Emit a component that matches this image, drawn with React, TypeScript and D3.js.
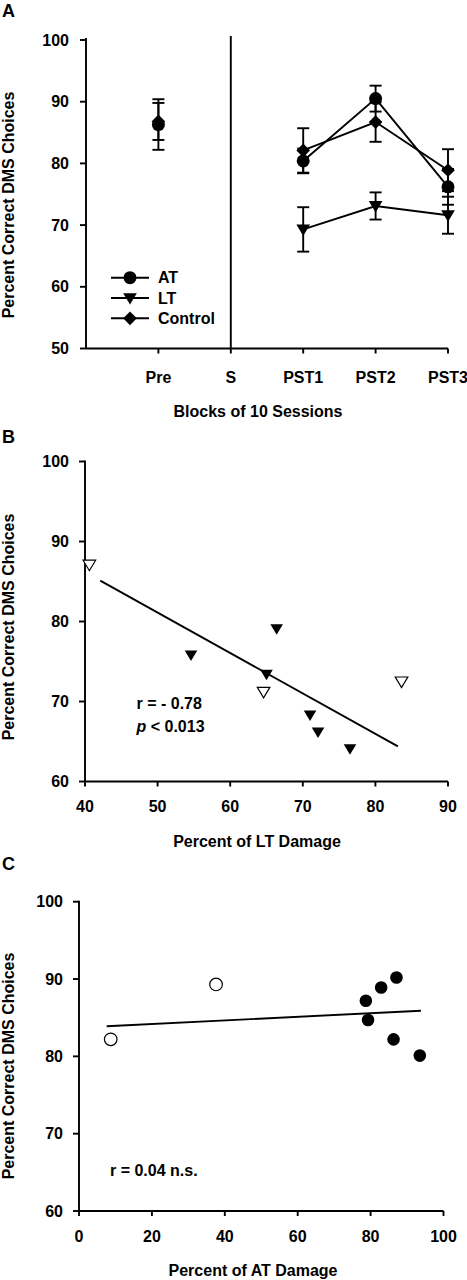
import React from "react";
import * as d3 from "d3";

// ---------- Panel A data ----------
const blocks = ["Pre", "S", "PST1", "PST2", "PST3"];
const atMean = [86.3, NaN, 80.4, 90.5, 76.2];
const atErr = [4.1, NaN, 2.0, 2.1, 2.9];
const ltMean = [NaN, NaN, 69.3, 73.1, 71.6];
const ltErr = [NaN, NaN, 3.6, 2.2, 3.0];
const ctlMean = [86.8, NaN, 82.1, 86.7, 78.9];
const ctlErr = [3.0, NaN, 3.6, 3.2, 3.4];
const yTicksA = [50, 60, 70, 80, 90, 100];
const legendNames = ["AT", "LT", "Control"];

// ---------- Panel B data ----------
const ltDamageFilled = [54.6, 65.0, 66.4, 71.0, 72.1, 76.5];
const ltScoreFilled = [75.8, 73.4, 79.1, 68.3, 66.2, 64.1];
const ltDamageOpen = [40.6, 64.6, 83.6];
const ltScoreOpen = [87.1, 71.2, 72.5];
const ltFitX = [42.1, 83.1];
const ltFitY = [85.1, 64.4];
const xTicksB = [40, 50, 60, 70, 80, 90];
const yTicksB = [60, 70, 80, 90, 100];

// ---------- Panel C data ----------
const atDamageFilled = [78.7, 79.3, 82.9, 87.1, 86.3, 93.5];
const atScoreFilled = [87.2, 84.7, 88.9, 90.2, 82.2, 80.1];
const atDamageOpen = [8.7, 37.6];
const atScoreOpen = [82.2, 89.3];
const atFitX = [7.6, 93.8];
const atFitY = [83.9, 85.9];
const xTicksC = [0, 20, 40, 60, 80, 100];
const yTicksC = [60, 70, 80, 90, 100];

const FONT = "'Liberation Sans', Arial, Helvetica, sans-serif";
const SW = 1.9;
const FS = 16;

type Shape = "circle" | "tri" | "diamond";

function marker(shape: Shape, x: number, y: number, s: number): string {
  const p = d3.path();
  if (shape === "circle") {
    p.arc(x, y, s, 0, Math.PI * 2);
  } else if (shape === "tri") {
    const w = s * 1.05;
    p.moveTo(x - w, y - s * 0.75);
    p.lineTo(x + w, y - s * 0.75);
    p.lineTo(x, y + s * 1.0);
    p.closePath();
  } else {
    p.moveTo(x, y - s * 1.05);
    p.lineTo(x + s * 1.05, y);
    p.lineTo(x, y + s * 1.05);
    p.lineTo(x - s * 1.05, y);
    p.closePath();
  }
  return p.toString();
}

function YLabel({ cx, cy }: { cx: number; cy: number }) {
  return (
    <text
      transform={`translate(${cx},${cy}) rotate(-90)`}
      textAnchor="middle"
      dominantBaseline="central"
      fontSize={FS}
      fontWeight="bold"
    >
      Percent Correct DMS Choices
    </text>
  );
}

function PanelA() {
  const x = d3.scaleLinear().domain([0, 5]).range([86, 448]);
  const y = d3.scaleLinear().domain([50, 100]).range([348.5, 40]);
  const series: { mean: number[]; err: number[]; shape: Shape }[] = [
    { mean: atMean, err: atErr, shape: "circle" },
    { mean: ltMean, err: ltErr, shape: "tri" },
    { mean: ctlMean, err: ctlErr, shape: "diamond" },
  ];
  const line = d3
    .line<number>()
    .defined((d, i) => i >= 2 && !isNaN(d))
    .x((d, i) => x(i + 1))
    .y((d) => y(d));
  const axisY = y(50);
  return (
    <g>
      <text x={2} y={17} fontSize={18} fontWeight="bold">A</text>
      {/* axes */}
      <line x1={86} x2={86} y1={38} y2={axisY} stroke="#000" strokeWidth={SW} />
      <line x1={86} x2={x(5)} y1={axisY} y2={axisY} stroke="#000" strokeWidth={SW} />
      <line x1={x(2)} x2={x(2)} y1={36} y2={axisY} stroke="#000" strokeWidth={SW} />
      {yTicksA.map((t) => (
        <g key={t}>
          <line x1={80} x2={86} y1={y(t)} y2={y(t)} stroke="#000" strokeWidth={SW} />
          <text x={69} y={y(t)} textAnchor="end" dominantBaseline="central" fontSize={FS} fontWeight="bold">
            {t}
          </text>
        </g>
      ))}
      {blocks.map((b, i) => (
        <g key={b}>
          <line x1={x(i + 1)} x2={x(i + 1)} y1={axisY} y2={axisY + 5} stroke="#000" strokeWidth={SW} />
          <text x={x(i + 1)} y={377} textAnchor="middle" dominantBaseline="central" fontSize={FS} fontWeight="bold">
            {b}
          </text>
        </g>
      ))}
      <text x={258} y={411} textAnchor="middle" dominantBaseline="central" fontSize={FS} fontWeight="bold">
        Blocks of 10 Sessions
      </text>
      <YLabel cx={8.5} cy={205} />
      {/* error bars */}
      {series.map((s, si) =>
        s.mean.map((m, i) =>
          isNaN(m) ? null : (
            <g key={`e${si}-${i}`} stroke="#000" strokeWidth={SW}>
              <line x1={x(i + 1)} x2={x(i + 1)} y1={y(m - s.err[i])} y2={y(m + s.err[i])} />
              <line x1={x(i + 1) - 6} x2={x(i + 1) + 6} y1={y(m - s.err[i])} y2={y(m - s.err[i])} />
              <line x1={x(i + 1) - 6} x2={x(i + 1) + 6} y1={y(m + s.err[i])} y2={y(m + s.err[i])} />
            </g>
          )
        )
      )}
      {/* lines */}
      {series.map((s, si) => (
        <path key={`l${si}`} d={line(s.mean) || ""} fill="none" stroke="#000" strokeWidth={SW} />
      ))}
      {/* markers */}
      {series.map((s, si) =>
        s.mean.map((m, i) =>
          isNaN(m) ? null : (
            <path key={`m${si}-${i}`} d={marker(s.shape, x(i + 1), y(m), 6.5)} fill="#000" />
          )
        )
      )}
      {/* legend */}
      {legendNames.map((n, i) => {
        const ly = 277.7 + i * 20.3;
        return (
          <g key={n}>
            <line x1={111} x2={149} y1={ly} y2={ly} stroke="#000" strokeWidth={SW} />
            <path d={marker(series[i].shape, 130, ly, 6.5)} fill="#000" />
            <text x={158} y={ly} dominantBaseline="central" fontSize={FS} fontWeight="bold">
              {n}
            </text>
          </g>
        );
      })}
    </g>
  );
}

function ScatterPanel(props: {
  letter: string;
  letterY: number;
  x0: number;
  x1: number;
  y0: number;
  y1: number;
  xDomain: [number, number];
  yDomain: [number, number];
  xTicks: number[];
  yTicks: number[];
  xTitle: string;
  xTitleX: number;
  tickLabelY: number;
  titleY: number;
  yLabelCy: number;
  filledX: number[];
  filledY: number[];
  openX: number[];
  openY: number[];
  fitX: number[];
  fitY: number[];
  shape: Shape;
  size: number;
  children?: React.ReactNode;
}) {
  const x = d3.scaleLinear().domain(props.xDomain).range([props.x0, props.x1]);
  const y = d3.scaleLinear().domain(props.yDomain).range([props.y0, props.y1]);
  const axisY = props.y0;
  const fit = d3
    .line<number>()
    .x((d) => x(d))
    .y((d, i) => y(props.fitY[i]));
  return (
    <g>
      <text x={2} y={props.letterY} fontSize={18} fontWeight="bold">{props.letter}</text>
      <line x1={props.x0} x2={props.x0} y1={props.y1 - 1} y2={axisY} stroke="#000" strokeWidth={SW} />
      <line x1={props.x0} x2={props.x1} y1={axisY} y2={axisY} stroke="#000" strokeWidth={SW} />
      {props.yTicks.map((t) => (
        <g key={t}>
          <line x1={props.x0 - 6} x2={props.x0} y1={y(t)} y2={y(t)} stroke="#000" strokeWidth={SW} />
          <text x={props.x0 - 16} y={y(t)} textAnchor="end" dominantBaseline="central" fontSize={FS} fontWeight="bold">
            {t}
          </text>
        </g>
      ))}
      {props.xTicks.map((t) => (
        <g key={t}>
          <line x1={x(t)} x2={x(t)} y1={axisY} y2={axisY + 5} stroke="#000" strokeWidth={SW} />
          <text x={x(t)} y={props.tickLabelY} textAnchor="middle" dominantBaseline="central" fontSize={FS} fontWeight="bold">
            {t}
          </text>
        </g>
      ))}
      <text x={props.xTitleX} y={props.titleY} textAnchor="middle" dominantBaseline="central" fontSize={FS} fontWeight="bold">
        {props.xTitle}
      </text>
      <YLabel cx={8.5} cy={props.yLabelCy} />
      <path d={fit(props.fitX) || ""} fill="none" stroke="#000" strokeWidth={SW} />
      {props.filledX.map((d, i) => (
        <path key={`f${i}`} d={marker(props.shape, x(d), y(props.filledY[i]), props.size)} fill="#000" />
      ))}
      {props.openX.map((d, i) => (
        <path key={`o${i}`} d={marker(props.shape, x(d), y(props.openY[i]), props.size)} fill="#fff" stroke="#000" strokeWidth={1.2} />
      ))}
      {props.children}
    </g>
  );
}

export default function App() {
  return (
    <svg
      width={467}
      height={1280}
      style={{ position: "absolute", left: 0, top: 0, background: "#fff" }}
      fontFamily={FONT}
    >
      <rect x={0} y={0} width={467} height={1280} fill="#fff" />
      <PanelA />
      <ScatterPanel
        letter="B"
        letterY={443}
        x0={85}
        x1={448}
        y0={781.5}
        y1={461.5}
        xDomain={[40, 90]}
        yDomain={[60, 100]}
        xTicks={xTicksB}
        yTicks={yTicksB}
        xTitle="Percent of LT Damage"
        xTitleX={257}
        tickLabelY={806}
        titleY={841}
        yLabelCy={627}
        filledX={ltDamageFilled}
        filledY={ltScoreFilled}
        openX={ltDamageOpen}
        openY={ltScoreOpen}
        fitX={ltFitX}
        fitY={ltFitY}
        shape="tri"
        size={6}
      >
        <g fontSize={FS} fontWeight="bold">
          <text x={136.5} y={703} dominantBaseline="central">r = - 0.78</text>
          <text x={136.5} y={726} dominantBaseline="central">
            <tspan fontStyle="italic">p</tspan> &lt; 0.013
          </text>
        </g>
      </ScatterPanel>
      <ScatterPanel
        letter="C"
        letterY={870}
        x0={79}
        x1={443.5}
        y0={1211}
        y1={901.7}
        xDomain={[0, 100]}
        yDomain={[60, 100]}
        xTicks={xTicksC}
        yTicks={yTicksC}
        xTitle="Percent of AT Damage"
        xTitleX={253}
        tickLabelY={1236}
        titleY={1270.5}
        yLabelCy={1066}
        filledX={atDamageFilled}
        filledY={atScoreFilled}
        openX={atDamageOpen}
        openY={atScoreOpen}
        fitX={atFitX}
        fitY={atFitY}
        shape="circle"
        size={6.3}
      >
        <text x={110} y={1170} dominantBaseline="central" fontSize={FS} fontWeight="bold">
          r = 0.04 n.s.
        </text>
      </ScatterPanel>
    </svg>
  );
}
